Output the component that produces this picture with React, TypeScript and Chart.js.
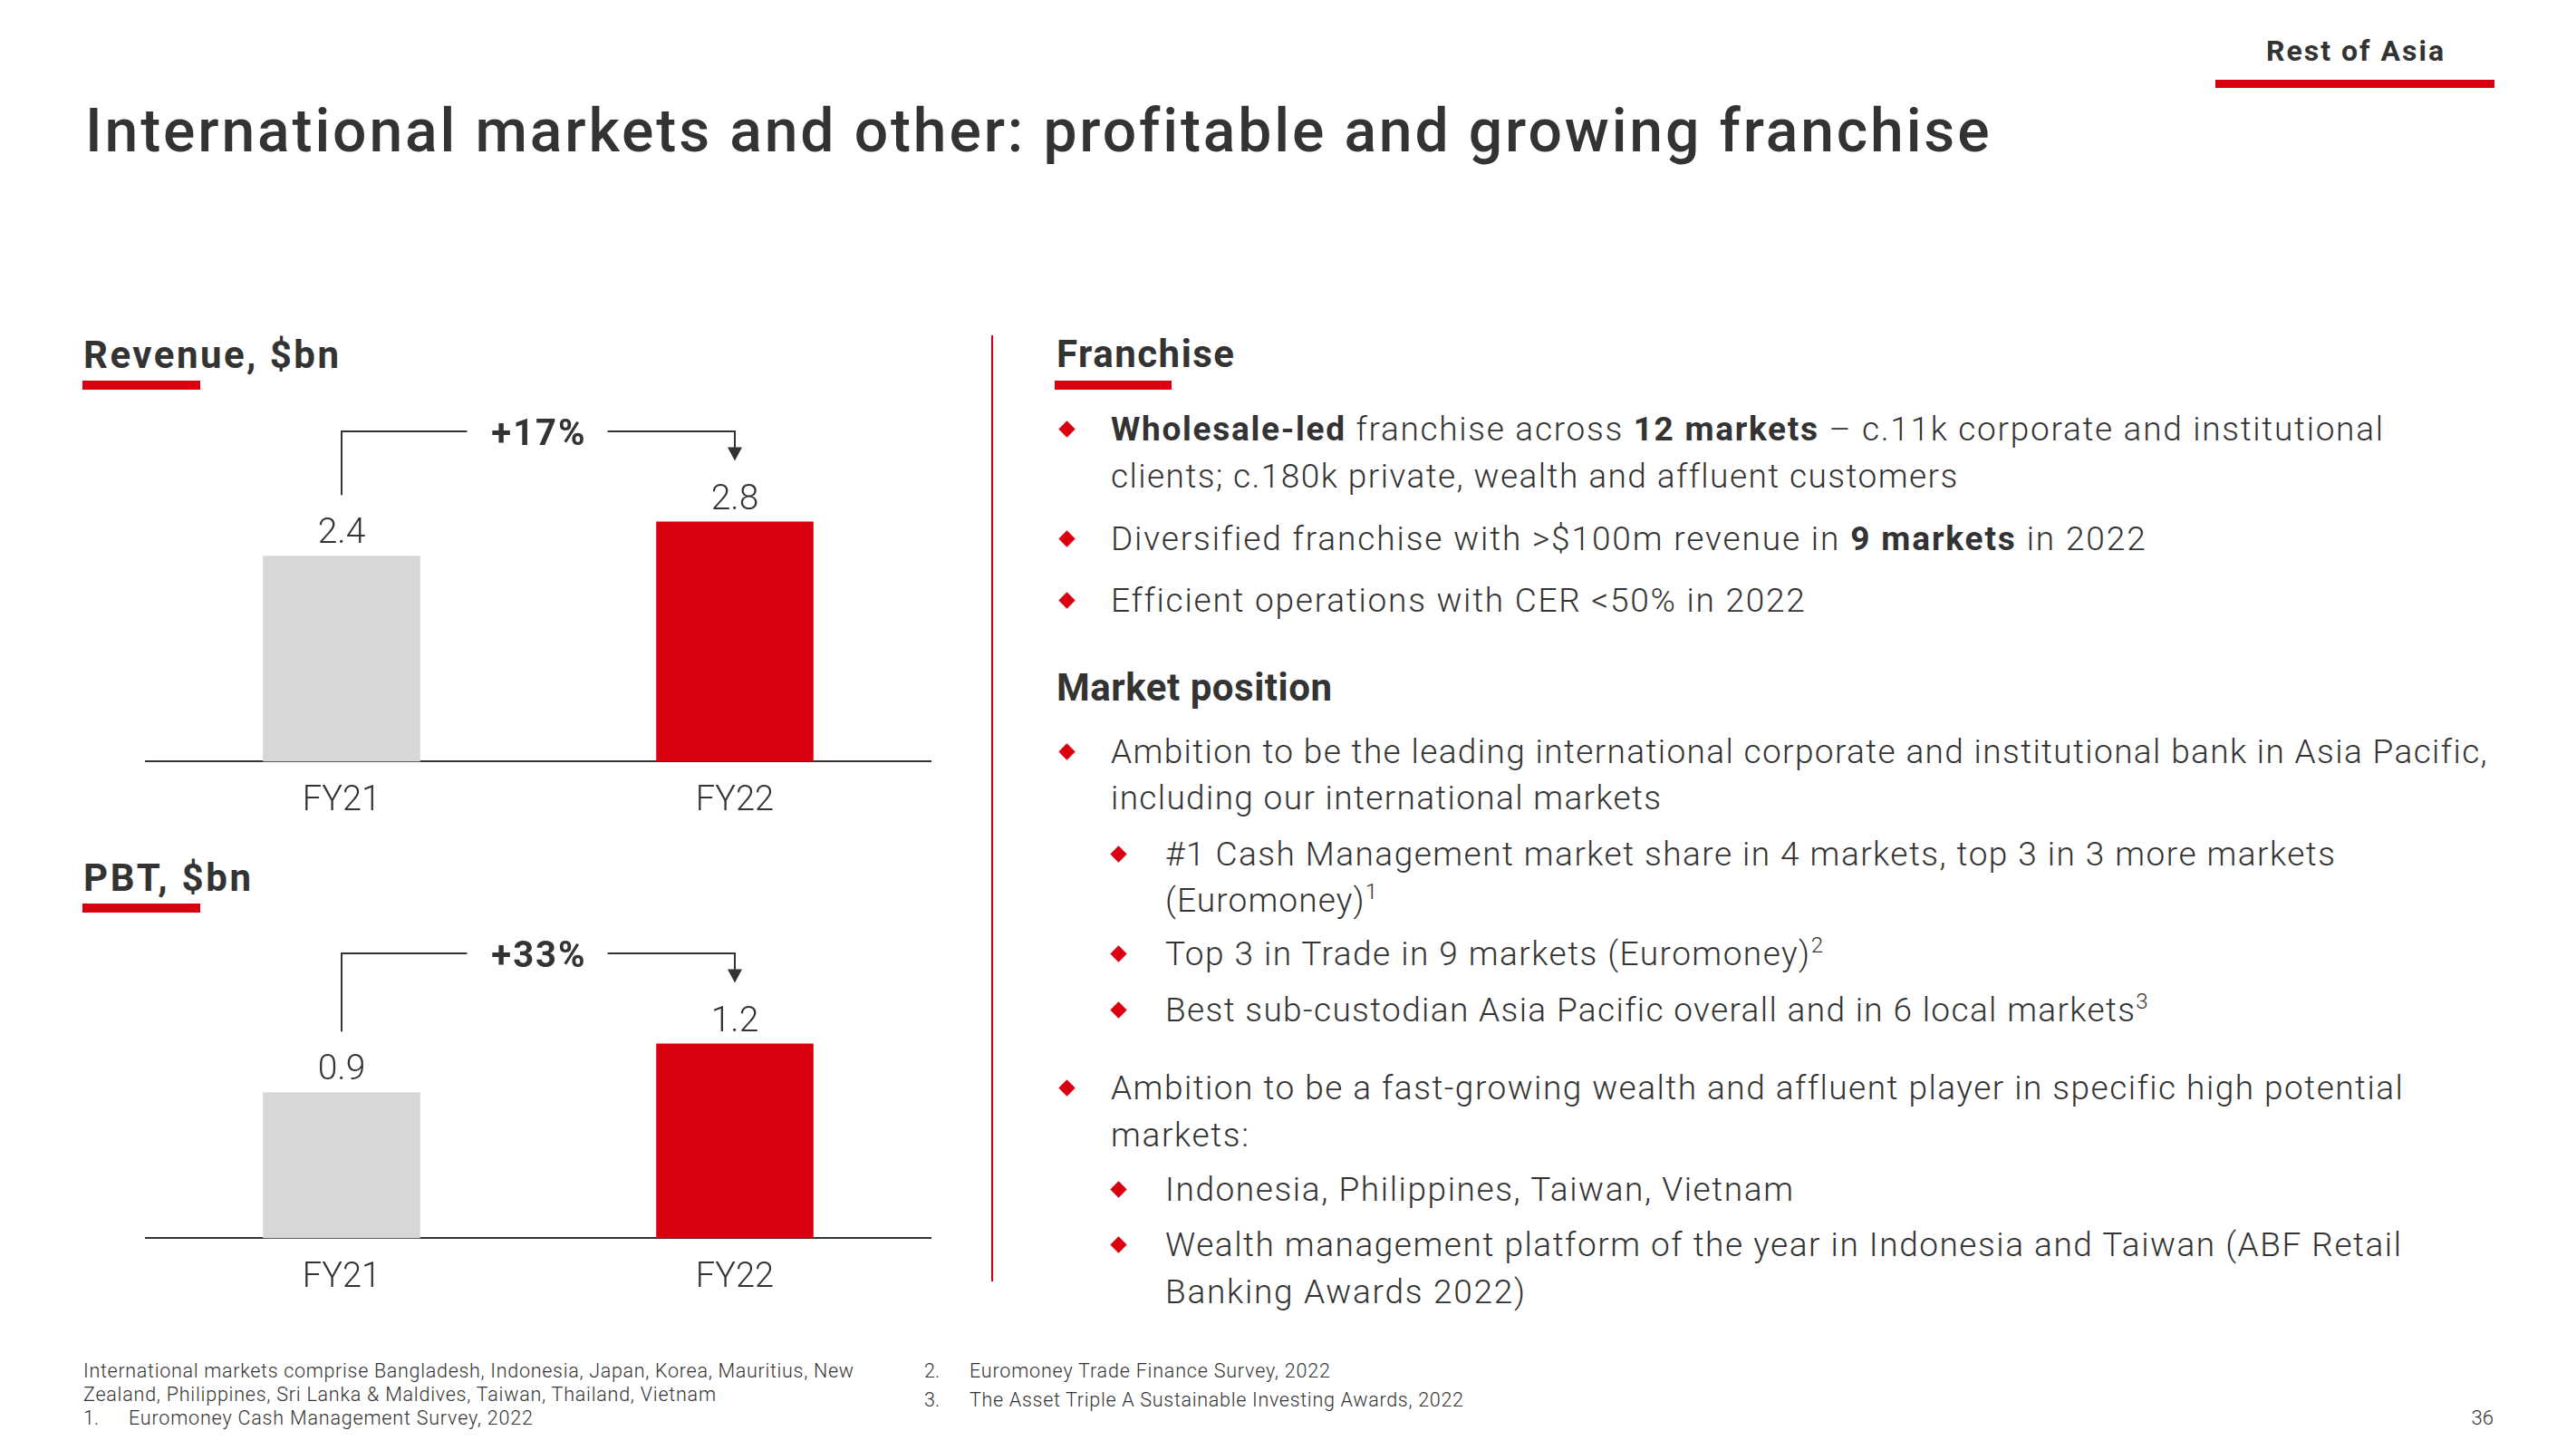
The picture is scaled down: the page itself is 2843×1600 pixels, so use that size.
import React, { useEffect, useLayoutEffect, useRef } from 'react';
import { Chart, registerables } from 'chart.js';

Chart.register(...registerables);

// ---------- data ----------
const categories = ['FY21', 'FY22'];
const revenueValues = [2.4, 2.8];
const pbtValues = [0.9, 1.2];
const revenueGrowth = '+17%';
const pbtGrowth = '+33%';
const barColors = ['#D7D7D7', '#DB0011'];

const TEXT = '#333333';
const RED = '#DB0011';
const FONT = 'Roboto, "Liberation Sans", Arial, sans-serif';

// ---------- text helper ----------
type LineProps = {
  x: number;
  base: number;
  size: number;
  weight?: number;
  w?: number;
  right?: boolean;
  color?: string;
  children: React.ReactNode;
};

function Line({ x, base, size, weight = 300, w, right, color = TEXT, children }: LineProps) {
  const ref = useRef<HTMLDivElement>(null);
  useLayoutEffect(() => {
    if (!w || !ref.current) return;
    const measure = () => {
      const el = ref.current;
      if (!el) return;
      el.style.letterSpacing = '0px';
      const natural = el.getBoundingClientRect().width;
      const n = Math.max(1, (el.textContent || '').length - 1);
      el.style.letterSpacing = (w - natural) / n + 'px';
    };
    measure();
    const f = (document as any).fonts;
    if (f && f.ready) f.ready.then(measure);
  }, [w]);
  const style: React.CSSProperties = {
    position: 'absolute',
    top: base - 0.842 * size,
    fontSize: size,
    lineHeight: `${size}px`,
    fontWeight: weight,
    whiteSpace: 'nowrap',
    color,
    fontFamily: FONT,
  };
  if (right) style.right = 2843 - x;
  else style.left = x;
  return (
    <div ref={ref} style={style}>
      {children}
    </div>
  );
}

function Diamond({ cx, base }: { cx: number; base: number }) {
  const s = 13;
  return (
    <div
      style={{
        position: 'absolute',
        left: cx - s / 2,
        top: base - 12.5 - s / 2,
        width: s,
        height: s,
        background: RED,
        transform: 'rotate(45deg)',
      }}
    />
  );
}

function Bar({ x, y, w, h, color = RED }: { x: number; y: number; w: number; h: number; color?: string }) {
  return <div style={{ position: 'absolute', left: x, top: y, width: w, height: h, background: color }} />;
}

const B = ({ children }: { children: React.ReactNode }) => <span style={{ fontWeight: 700 }}>{children}</span>;
const Sup = ({ children }: { children: React.ReactNode }) => (
  <span style={{ fontSize: '0.65em', verticalAlign: '0.6em', lineHeight: 0 }}>{children}</span>
);

// ---------- chart ----------
type ChartProps = {
  left: number;
  top: number;
  width: number;
  height: number;
  padTop: number;
  yMax: number;
  values: number[];
  growth: string;
};

function GrowthBarChart({ left, top, width, height, padTop, yMax, values, growth }: ChartProps) {
  const ref = useRef<HTMLCanvasElement>(null);
  useEffect(() => {
    if (!ref.current) return;
    const annot = {
      id: 'annot',
      afterDraw(chart: any) {
        const ctx = chart.ctx as CanvasRenderingContext2D;
        const meta = chart.getDatasetMeta(0);
        const bars = meta.data;
        const vals = chart.data.datasets[0].data as number[];
        ctx.save();
        ctx.fillStyle = TEXT;
        ctx.textAlign = 'center';
        ctx.textBaseline = 'alphabetic';
        ctx.font = `300 39px ${FONT}`;
        bars.forEach((b: any, i: number) => ctx.fillText(vals[i].toFixed(1), b.x, b.y - 14));
        const l = bars[0];
        const r = bars[1];
        const topY = Math.min(l.y, r.y) - 99.5;
        const mid = (l.x + r.x) / 2;
        ctx.font = `700 40px ${FONT}`;
        (ctx as any).letterSpacing = '2px';
        const tw = ctx.measureText(growth).width;
        ctx.textAlign = 'left';
        ctx.fillText(growth, mid - tw / 2 + 1, topY + 14.5);
        (ctx as any).letterSpacing = '0px';
        ctx.strokeStyle = TEXT;
        ctx.lineWidth = 2;
        ctx.beginPath();
        ctx.moveTo(l.x, l.y - 67);
        ctx.lineTo(l.x, topY);
        ctx.lineTo(mid - tw / 2 - 26, topY);
        ctx.moveTo(mid + tw / 2 + 24, topY);
        ctx.lineTo(r.x, topY);
        ctx.lineTo(r.x, r.y - 67 - 12);
        ctx.stroke();
        ctx.beginPath();
        ctx.moveTo(r.x - 8, r.y - 67 - 15);
        ctx.lineTo(r.x + 8, r.y - 67 - 15);
        ctx.lineTo(r.x, r.y - 67);
        ctx.closePath();
        ctx.fill();
        ctx.restore();
      },
    };
    const chart = new Chart(ref.current, {
      type: 'bar',
      data: {
        labels: categories,
        datasets: [
          {
            data: values,
            backgroundColor: barColors,
            barPercentage: 0.4,
            categoryPercentage: 1,
          },
        ],
      },
      options: {
        animation: false,
        responsive: false,
        maintainAspectRatio: false,
        devicePixelRatio: 1,
        layout: { padding: { top: padTop, left: 0, right: 0, bottom: 0 } },
        plugins: { legend: { display: false }, tooltip: { enabled: false } },
        scales: {
          x: {
            grid: { display: false, drawTicks: false },
            border: { display: true, color: TEXT, width: 2 },
            ticks: {
              color: TEXT,
              padding: 21,
              font: { family: FONT, size: 38, weight: '300' as any },
            },
          },
          y: { display: false, min: 0, max: yMax },
        },
      },
      plugins: [annot],
    });
    return () => chart.destroy();
  }, []);
  return (
    <canvas
      ref={ref}
      width={width}
      height={height}
      style={{ position: 'absolute', left, top, width, height }}
    />
  );
}

// ---------- app ----------
export default function App() {
  useEffect(() => {
    document.body.style.margin = '0';
  }, []);
  const MX = 1226; // main text x
  const SX = 1286; // sub text x
  const MB = 1177; // main bullet
  const SB = 1234; // sub bullet
  const fs = 37;
  const hs = 42;
  const fn = 21.5;
  return (
    <div
      style={{
        position: 'absolute',
        left: 0,
        top: 0,
        width: 2843,
        height: 1600,
        background: '#fff',
        overflow: 'hidden',
        fontFamily: FONT,
        color: TEXT,
      }}
    >
      {/* header */}
      <Line x={2501} base={66.7} size={32} weight={700} w={196}>Rest of Asia</Line>
      <Bar x={2445} y={88} w={308} h={9} />
      <Line x={94} base={168} size={66} weight={500} w={2100}>
        International markets and other: profitable and growing franchise
      </Line>

      {/* left charts */}
      <Line x={92} base={406} size={hs} weight={700} w={282}>Revenue, $bn</Line>
      <Bar x={91} y={420} w={130} h={10} />
      <GrowthBarChart left={160} top={430} width={868} height={498} padTop={32} yMax={4} values={revenueValues} growth={revenueGrowth} />

      <Line x={92} base={983} size={hs} weight={700} w={185}>PBT, $bn</Line>
      <Bar x={91} y={997} w={130} h={10} />
      <GrowthBarChart left={160} top={1020} width={868} height={434} padTop={60} yMax={1.6} values={pbtValues} growth={pbtGrowth} />

      {/* divider */}
      <Bar x={1094} y={370} w={2} h={1044} />

      {/* right text */}
      <Line x={1166} base={405} size={hs} weight={700} w={196}>Franchise</Line>
      <Bar x={1164} y={420} w={129} h={10} />

      <Diamond cx={MB} base={486} />
      <Line x={MX} base={486} size={fs} w={1404}>
        <B>Wholesale-led</B> franchise across <B>12 markets</B> – c.11k corporate and institutional
      </Line>
      <Line x={MX} base={538} size={fs} w={932}>clients; c.180k private, wealth and affluent customers</Line>
      <Diamond cx={MB} base={606.7} />
      <Line x={MX} base={606.7} size={fs} w={1141}>
        Diversified franchise with &gt;$100m revenue in <B>9 markets</B> in 2022
      </Line>
      <Diamond cx={MB} base={675} />
      <Line x={MX} base={675} size={fs} w={764}>Efficient operations with CER &lt;50% in 2022</Line>

      <Line x={1166} base={773} size={hs} weight={700} w={304}>Market position</Line>

      <Diamond cx={MB} base={841.7} />
      <Line x={MX} base={841.7} size={fs} w={1518}>
        Ambition to be the leading international corporate and institutional bank in Asia Pacific,
      </Line>
      <Line x={MX} base={893} size={fs} w={607}>including our international markets</Line>

      <Diamond cx={SB} base={955} />
      <Line x={SX} base={955} size={fs} w={1291}>
        #1 Cash Management market share in 4 markets, top 3 in 3 more markets
      </Line>
      <Line x={SX} base={1006} size={fs} w={234}>
        (Euromoney)<Sup>1</Sup>
      </Line>
      <Diamond cx={SB} base={1065} />
      <Line x={SX} base={1065} size={fs} w={726}>
        Top 3 in Trade in 9 markets (Euromoney)<Sup>2</Sup>
      </Line>
      <Diamond cx={SB} base={1126.7} />
      <Line x={SX} base={1126.7} size={fs} w={1084}>
        Best sub-custodian Asia Pacific overall and in 6 local markets<Sup>3</Sup>
      </Line>

      <Diamond cx={MB} base={1213} />
      <Line x={MX} base={1213} size={fs} w={1423}>
        Ambition to be a fast-growing wealth and affluent player in specific high potential
      </Line>
      <Line x={MX} base={1265} size={fs} w={152}>markets:</Line>
      <Diamond cx={SB} base={1325} />
      <Line x={SX} base={1325} size={fs} w={693}>Indonesia, Philippines, Taiwan, Vietnam</Line>
      <Diamond cx={SB} base={1386} />
      <Line x={SX} base={1386} size={fs} w={1364}>
        Wealth management platform of the year in Indonesia and Taiwan (ABF Retail
      </Line>
      <Line x={SX} base={1438} size={fs} w={397}>Banking Awards 2022)</Line>

      {/* footnotes */}
      <Line x={92} base={1520} size={fn} w={850}>
        International markets comprise Bangladesh, Indonesia, Japan, Korea, Mauritius, New
      </Line>
      <Line x={92} base={1546} size={fn} w={698}>
        Zealand, Philippines, Sri Lanka &amp; Maldives, Taiwan, Thailand, Vietnam
      </Line>
      <Line x={92} base={1572} size={fn}>1.</Line>
      <Line x={142} base={1572} size={fn} w={446}>Euromoney Cash Management Survey, 2022</Line>
      <Line x={1020} base={1520} size={fn}>2.</Line>
      <Line x={1070} base={1520} size={fn} w={398}>Euromoney Trade Finance Survey, 2022</Line>
      <Line x={1020} base={1552} size={fn}>3.</Line>
      <Line x={1070} base={1552} size={fn} w={545}>The Asset Triple A Sustainable Investing Awards, 2022</Line>
      <Line x={2752} base={1573} size={22} right>36</Line>
    </div>
  );
}
